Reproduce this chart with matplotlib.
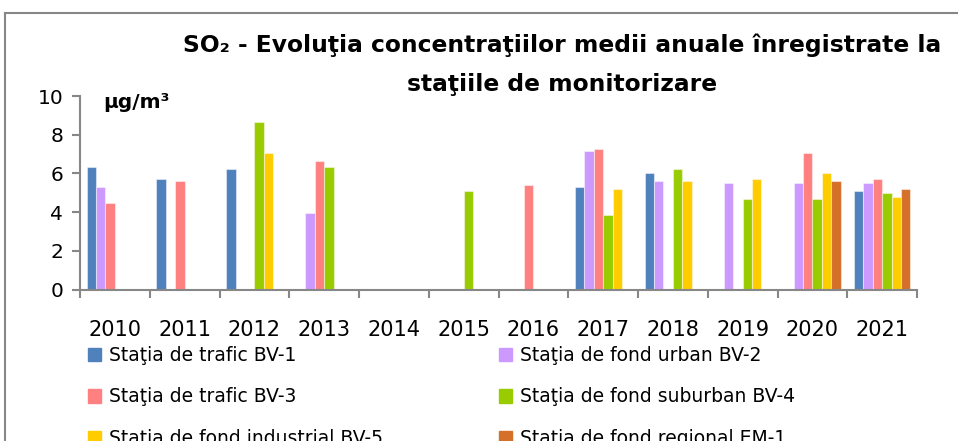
import matplotlib.pyplot as plt
import matplotlib.patches as mpatches
from matplotlib.lines import Line2D
import numpy as np

years = ['2010', '2011', '2012', '2013', '2014', '2015', '2016',
         '2017', '2018', '2019', '2020', '2021']

stations = ['Staţia de trafic BV-1', 'Staţia de fond urban BV-2',
            'Staţia de trafic BV-3', 'Staţia de fond suburban BV-4',
            'Staţia de fond industrial BV-5', 'Staţia de fond regional EM-1']

nan = np.nan
bv1 = [6.32, 5.69, 6.21, nan, nan, nan, nan, 5.28, 6.0, nan, nan, 5.07]
bv2 = [5.28, nan, nan, 3.94, nan, nan, nan, 7.14, 5.59, 5.49, 5.49, 5.49]
bv3 = [4.45, 5.59, nan, 6.63, nan, nan, 5.38, 7.24, nan, nan, 7.04, 5.69]
bv4 = [nan, nan, 8.67, 6.32, nan, 5.07, nan, 3.83, 6.21, 4.66, 4.66, 4.97]
bv5 = [nan, nan, 7.04, nan, nan, nan, nan, 5.18, 5.59, 5.69, 6.0, 4.76]
em1 = [nan, nan, nan, nan, nan, nan, nan, nan, nan, nan, 5.59, 5.18]
series = [bv1, bv2, bv3, bv4, bv5, em1]

colors = ['#4F81BD', '#CC99FF', '#FF8080', '#99CC00', '#FFCC00', '#D4702A']

plt.rcParams['font.family'] = ['DejaVu Sans']

fig = plt.figure(figsize=(9.58, 4.41), dpi=100)
ax = fig.add_axes([80 / 958, 1 - 289.5 / 441, 837 / 958, 193.5 / 441])

x = np.arange(len(years))
w = 0.135
for i, vals in enumerate(series):
    v = np.array(vals, dtype=float)
    ax.bar(x + (i - 2.5) * w, np.nan_to_num(v), width=w, color=colors[i],
           edgecolor=(1, 1, 1, 0.45), linewidth=0.8, label=stations[i])

ax.set_xlim(-0.5, len(years) - 0.5)
ax.set_ylim(0, 10)
ax.set_yticks(range(0, 11, 2))
ax.set_xticks(x)
ax.set_xticklabels(years)
ax.set_xticks(np.arange(-0.5, len(years)), minor=True)

for s in ['top', 'right']:
    ax.spines[s].set_visible(False)
for s in ['left', 'bottom']:
    ax.spines[s].set_color('#878787')
    ax.spines[s].set_linewidth(1.5)

ax.tick_params(axis='x', which='major', length=0, labelsize=15, pad=22)
ax.tick_params(axis='x', which='minor', length=6, width=1.5, color='#878787')
ax.tick_params(axis='y', length=6, width=1.5, color='#878787', labelsize=14.5, pad=6)

fig.text(103 / 958, 1 - 103 / 441, 'µg/m³', fontsize=14.5,
         fontweight='bold', va='center', ha='left')

fig.text(562 / 958, 1 - 45 / 441,
         'SO₂ - Evoluţia concentraţiilor medii anuale înregistrate la',
         fontsize=16.8, fontweight='bold', ha='center', va='center')
fig.text(562 / 958, 1 - 85 / 441, 'staţiile de monitorizare',
         fontsize=16.8, fontweight='bold', ha='center', va='center')

# legend is filled row by row in the original
order = [0, 2, 4, 1, 3, 5]
handles = [mpatches.Patch(color=colors[k]) for k in order]
labels = [stations[k] for k in order]
fig.legend(handles, labels, loc='upper left',
           bbox_to_anchor=(88 / 958, 1 - 346 / 441), ncol=2, frameon=False,
           fontsize=13.5, handlelength=0.7, handleheight=0.7,
           handletextpad=0.4, columnspacing=6.2, labelspacing=1.2,
           borderaxespad=0, borderpad=0)

# chart frame
fig.add_artist(Line2D([5 / 958, 5 / 958], [0, 1 - 13 / 441],
                      transform=fig.transFigure, color='#878787', lw=1.5))
fig.add_artist(Line2D([5 / 958, 1], [1 - 13 / 441, 1 - 13 / 441],
                      transform=fig.transFigure, color='#878787', lw=1.5))

fig.savefig('out.png', dpi=100)
